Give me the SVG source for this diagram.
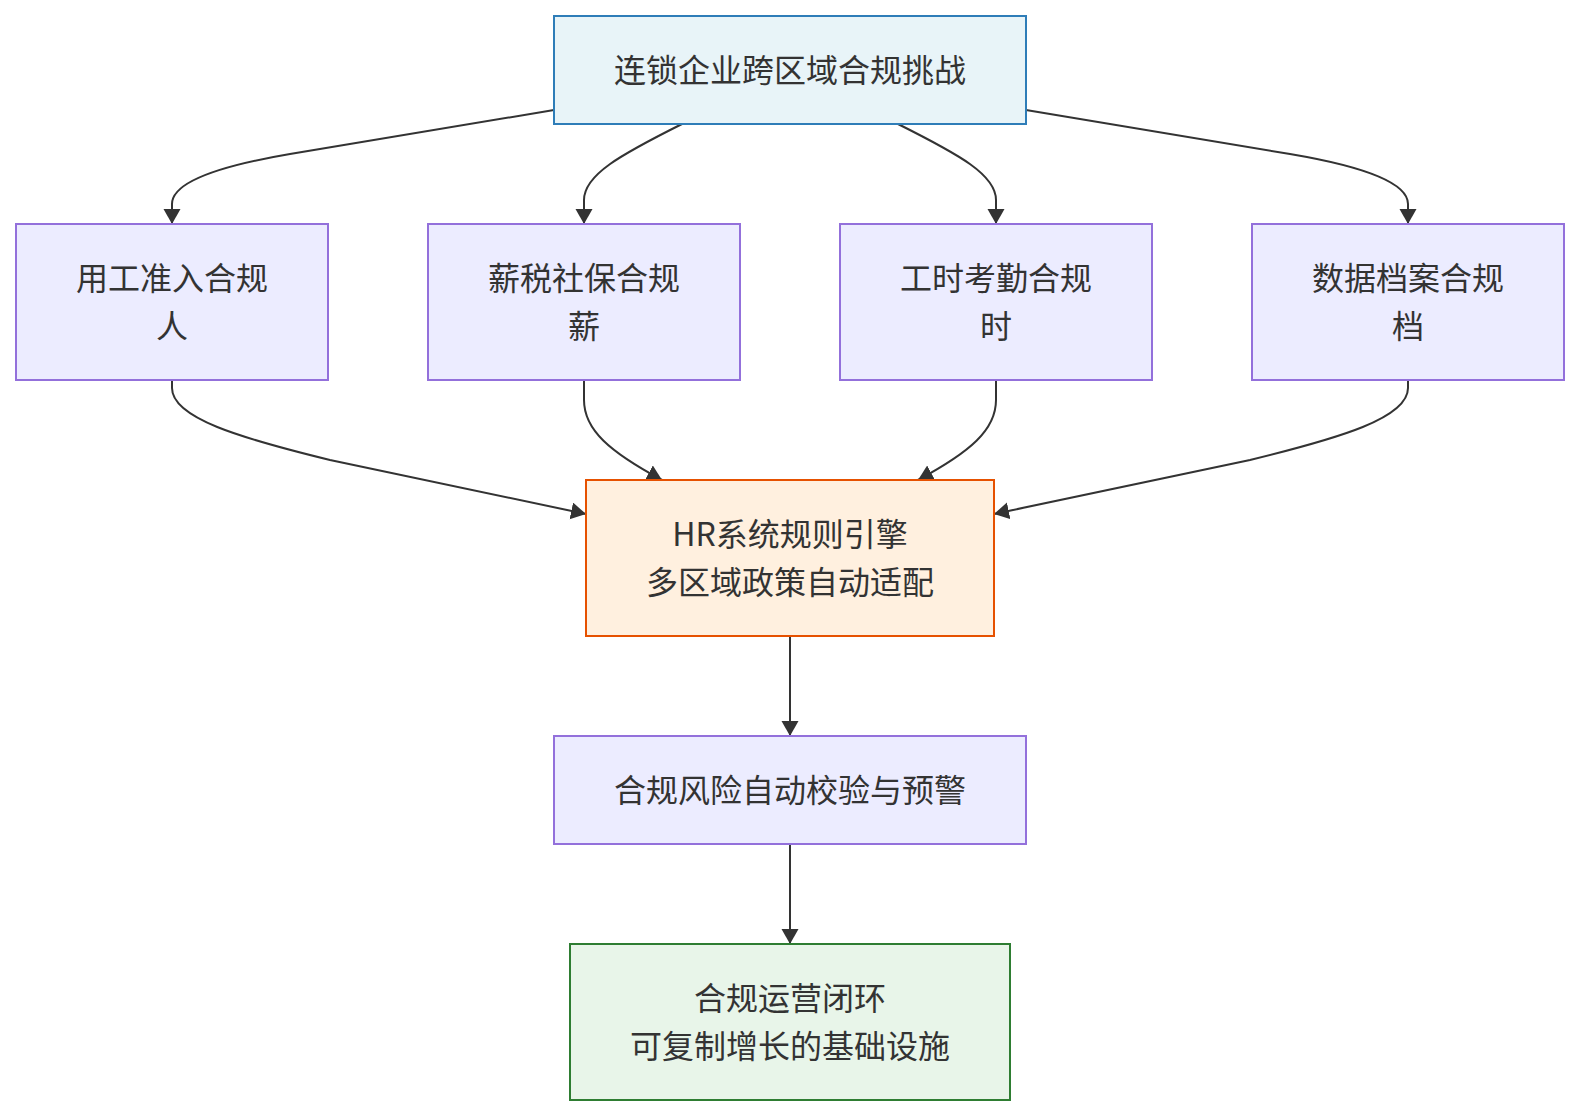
<svg xmlns="http://www.w3.org/2000/svg" width="1580" height="1116" viewBox="0 0 1580 1116">
<style>
.n rect{stroke-width:2}
.def rect{fill:#ECECFF;stroke:#9370DB}
.top rect{fill:#E8F4F8;stroke:#2E7DB8}
.hr rect{fill:#FFF0DF;stroke:#E65100}
.end rect{fill:#E8F5E9;stroke:#2E7D32}
text{font-family:"Noto Sans CJK SC","Noto Sans",sans-serif;font-size:32px;fill:#333;text-anchor:middle;dominant-baseline:central}
.e path{fill:none;stroke:#333;stroke-width:2;marker-end:url(#arr)}
</style>
<defs>
<marker id="arr" markerUnits="userSpaceOnUse" markerWidth="18" markerHeight="18" refX="15" refY="8.5" orient="auto">
<path d="M0,0 L15,8.5 L0,17 z" fill="#333"/>
</marker>
</defs>
<rect width="1580" height="1116" fill="#fff"/>
<g class="e" id="edges">
<path d="M554,110 L290,154 Q172,174 172,204 L172,224"/>
<path d="M682,124 C620,155 584,175 584,200 L584,224"/>
<path d="M898,124 C960,155 996,175 996,200 L996,224"/>
<path d="M1026,110 L1290,154 Q1408,174 1408,204 L1408,224"/>
<path d="M172,380 L172,388 C172,418 240,438 330,460 L586,514"/>
<path d="M584,380 L584,400 C584,430 610,452 662,480"/>
<path d="M996,380 L996,400 C996,430 970,452 918,480"/>
<path d="M1408,380 L1408,388 C1408,418 1340,438 1250,460 L994,514"/>
<path d="M790,636 L790,736"/>
<path d="M790,844 L790,944"/>
</g>
<g id="n0" class="n top"><rect x="554" y="16" width="472" height="108"/><text x="790" y="68">连锁企业跨区域合规挑战</text></g>
<g id="n1" class="n def"><rect x="16" y="224" width="312" height="156"/><text x="172" y="276">用工准入合规</text><text x="172" y="324">人</text></g>
<g id="n2" class="n def"><rect x="428" y="224" width="312" height="156"/><text x="584" y="276">薪税社保合规</text><text x="584" y="324">薪</text></g>
<g id="n3" class="n def"><rect x="840" y="224" width="312" height="156"/><text x="996" y="276">工时考勤合规</text><text x="996" y="324">时</text></g>
<g id="n4" class="n def"><rect x="1252" y="224" width="312" height="156"/><text x="1408" y="276">数据档案合规</text><text x="1408" y="324">档</text></g>
<g id="n5" class="n hr"><rect x="586" y="480" width="408" height="156"/><text x="790" y="532">HR系统规则引擎</text><text x="790" y="580">多区域政策自动适配</text></g>
<g id="n6" class="n def"><rect x="554" y="736" width="472" height="108"/><text x="790" y="788">合规风险自动校验与预警</text></g>
<g id="n7" class="n end"><rect x="570" y="944" width="440" height="156"/><text x="790" y="996">合规运营闭环</text><text x="790" y="1044">可复制增长的基础设施</text></g>
</svg>
